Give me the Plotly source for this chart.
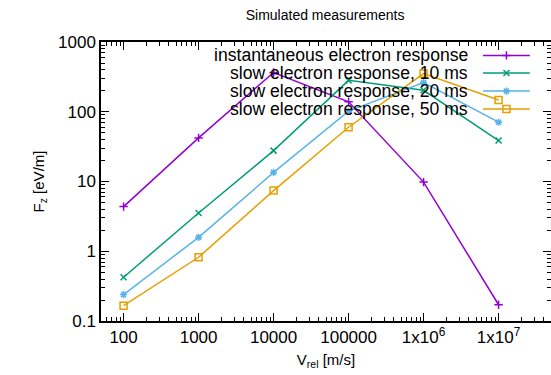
import numpy as np
import plotly.graph_objects as go

v_rel = [100, 1000, 10000, 100000, 1e6, 1e7]
instantaneous = [4.37, 42.2, 365, 139, 9.8, 0.171]
slow_10ms = [0.424, 3.54, 27.7, 282, 203, 38.6]
slow_20ms = [0.239, 1.58, 13.5, 102, 262, 70.8]
slow_50ms = [0.166, 0.82, 7.4, 60, 353, 147]

series_names = ["instantaneous electron response",
                "slow electron response, 10 ms",
                "slow electron response, 20 ms",
                "slow electron response, 50 ms"]
series_values = [instantaneous, slow_10ms, slow_20ms, slow_50ms]
colors = ["#9400d3", "#009e73", "#56b4e9", "#e69f00"]
symbols = ["cross-thin", "x-thin", "asterisk", "square-open"]
msizes = [6, 6, 6, 7]

x_tickvals = [100, 1000, 10000, 100000, 1e6, 1e7]
x_ticktext = ["100", "1000", "10000", "100000", "1x10<sup>6</sup>", "1x10<sup>7</sup>"]
y_tickvals = [0.1, 1, 10, 100, 1000]
y_ticktext = ["0.1", "1", "10", "100", "1000"]

FONT = "Liberation Sans, Arial, sans-serif"

def minor_vals(lo_exp, hi_exp):
    out = []
    for e in range(lo_exp, hi_exp + 1):
        for m in range(2, 10):
            out.append(m * 10.0 ** e)
    return out

fig = go.Figure()
for name, vals, c, s, ms in zip(series_names, series_values, colors, symbols, msizes):
    fig.add_trace(go.Scatter(
        x=v_rel, y=vals, mode="lines+markers", name=name,
        line=dict(color=c, width=1.5),
        marker=dict(symbol=s, size=ms, color=c, line=dict(color=c, width=1.5)),
        showlegend=False))

# manual legend (gnuplot style: text right, key sample on the right)
leg_rows = [0.952, 0.889, 0.824, 0.760]
for name, c, s, ms, yy in zip(series_names, colors, symbols, msizes, leg_rows):
    fig.add_trace(go.Scatter(
        x=[0.849, 0.901, 0.953], y=[yy, yy, yy], xaxis="x2", yaxis="y2",
        mode="lines", line=dict(color=c, width=1.5), showlegend=False, hoverinfo="skip"))
    fig.add_trace(go.Scatter(
        x=[0.901], y=[yy], xaxis="x2", yaxis="y2", mode="markers",
        marker=dict(symbol=s, size=ms, color=c, line=dict(color=c, width=1.5)),
        showlegend=False, hoverinfo="skip"))
    fig.add_annotation(x=0.820, y=yy, xref="x2", yref="y2", text=name, showarrow=False,
                       xanchor="right", yanchor="middle",
                       font=dict(family=FONT, size=17.6, color="black"))

axis_common = dict(showgrid=False, zeroline=False, showline=True, linecolor="black",
                   linewidth=1.5, ticks="inside", ticklen=8, tickwidth=1, tickcolor="black",
                   mirror="allticks", automargin=False,
                   tickfont=dict(family=FONT, size=17, color="black"))

fig.update_layout(
    width=551, height=375,
    margin=dict(l=101, r=0, t=42, b=54),
    paper_bgcolor="white", plot_bgcolor="white",
    title=dict(text="Simulated measurements", x=0.59, xanchor="center", y=0.96, yanchor="middle",
               font=dict(family=FONT, size=14, color="black")),
    xaxis=dict(type="log", range=[np.log10(50), np.log10(5e7)],
               tickmode="array", tickvals=x_tickvals, ticktext=x_ticktext,
               minor=dict(tickvals=minor_vals(1, 7), ticks="inside", ticklen=4,
                          tickcolor="black", tickwidth=1),
               title=dict(text="V<sub>rel</sub> [m/s]", font=dict(family=FONT, size=15, color="black"),
                          standoff=8),
               **axis_common),
    yaxis=dict(type="log", range=[-1, 3],
               tickmode="array", tickvals=y_tickvals, ticktext=y_ticktext,
               minor=dict(tickvals=minor_vals(-1, 2), ticks="inside", ticklen=4,
                          tickcolor="black", tickwidth=1),
               title=dict(text="F<sub>z</sub> [eV/m]", font=dict(family=FONT, size=15, color="black"),
                          standoff=10),
               **axis_common),
    xaxis2=dict(overlaying="x", range=[0, 1], visible=False, fixedrange=True),
    yaxis2=dict(overlaying="y", range=[0, 1], visible=False, fixedrange=True),
)

fig.write_html("out.html", config={"displayModeBar": False},
               post_script="document.body.style.margin='0';")
